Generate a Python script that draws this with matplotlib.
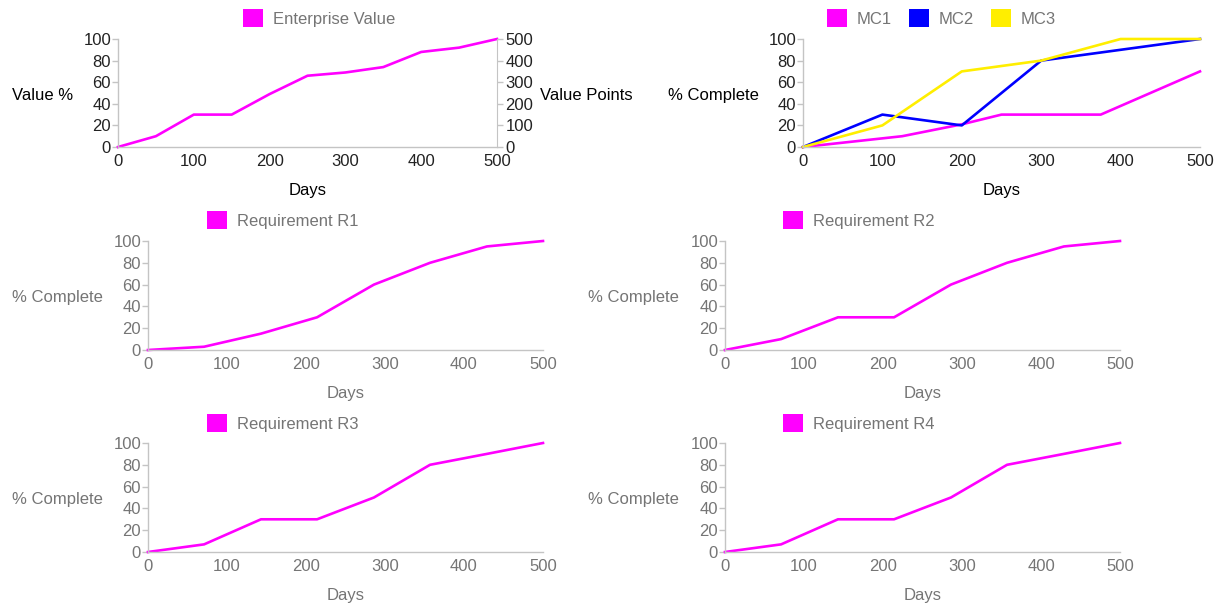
import matplotlib
matplotlib.use("Agg")
import matplotlib.pyplot as plt
from matplotlib.patches import Patch

plt.rcParams["font.family"] = ["Liberation Sans", "DejaVu Sans"]

# ---- data -------------------------------------------------------------
ev_days = [0, 50, 100, 150, 200, 250, 300, 350, 400, 450, 500]
ev_value = [0, 10, 30, 30, 49, 66, 69, 74, 88, 92, 100]

mc1_days = [0, 100, 125, 200, 250, 375, 500]
mc1_pct = [0, 8, 10, 21, 30, 30, 70]
mc2_days = [0, 100, 200, 300, 400, 500]
mc2_pct = [0, 30, 20, 80, 90, 100]
mc3_days = [0, 100, 200, 250, 300, 400, 500]
mc3_pct = [0, 20, 70, 75, 80, 100, 100]

req_days = [0, 71, 143, 214, 286, 357, 429, 500]
r1_pct = [0, 3, 15, 30, 60, 80, 95, 100]
r2_pct = [0, 10, 30, 30, 60, 80, 95, 100]
r3_pct = [0, 7, 30, 30, 50, 80, 90, 100]
r4_pct = [0, 7, 30, 30, 50, 80, 90, 100]

x_ticks = [0, 100, 200, 300, 400, 500]
pct_ticks = [0, 20, 40, 60, 80, 100]
points_ticks = [0, 100, 200, 300, 400, 500]

MAGENTA = "#ff00ff"
BLUE = "#0000ff"
YELLOW = "#ffee00"
SPINE = "#c4c4c4"
DARK = "#222222"
GREY = "#757575"
FS = 12

W, H = 1221, 607
fig = plt.figure(figsize=(W / 100, H / 100), dpi=100)


def px_axes(left, top, right, bottom):
    return fig.add_axes([left / W, 1 - bottom / H, (right - left) / W, (bottom - top) / H])


def style(ax, text_color):
    ax.set_xlim(0, 500)
    ax.set_ylim(0, 100)
    ax.set_xticks(x_ticks)
    ax.set_yticks(pct_ticks)
    for s in ("top", "right"):
        ax.spines[s].set_visible(False)
    for s in ("left", "bottom"):
        ax.spines[s].set_color(SPINE)
        ax.spines[s].set_linewidth(1)
    ax.tick_params(axis="x", length=0, pad=5, labelsize=FS, labelcolor=text_color)
    ax.tick_params(axis="y", length=4, width=1, color=SPINE, pad=1,
                   labelsize=FS, labelcolor=text_color)
    ax.set_facecolor("none")


def labels(ax, ylabel, ylabel_x, text_color):
    ax.set_ylabel(ylabel, rotation=0, ha="left", va="center", fontsize=FS, color=text_color)
    ax.yaxis.set_label_coords(ylabel_x, 0.48)
    ax.set_xlabel("Days", va="center", fontsize=FS, color=text_color)
    ax.xaxis.set_label_coords(0.5, -0.40)


def legend(ax, items, left_px, cy_px):
    handles = [Patch(facecolor=c, edgecolor="none", label=l) for l, c in items]
    ax.legend(handles=handles, loc="center left",
              bbox_to_anchor=(left_px / W, 1 - cy_px / H), bbox_transform=fig.transFigure,
              ncol=len(items), frameon=False, fontsize=FS, labelcolor=GREY,
              handlelength=1.2, handleheight=1.2, handletextpad=0.6,
              columnspacing=1.0, borderpad=0, borderaxespad=0)


LW = 1.9

# ---- Enterprise value -------------------------------------------------
ax1 = px_axes(118, 39, 497, 147)
style(ax1, DARK)
ax1.plot(ev_days, ev_value, color=MAGENTA, lw=LW, solid_joinstyle="round", clip_on=False)
labels(ax1, "Value %", -0.28, "black")
ax1b = ax1.twinx()
ax1b.set_ylim(0, 500)
ax1b.set_yticks(points_ticks)
for s in ("top", "left", "bottom"):
    ax1b.spines[s].set_visible(False)
ax1b.spines["right"].set_color(SPINE)
ax1b.tick_params(axis="y", length=4, width=1, color=SPINE, pad=2,
                 labelsize=FS, labelcolor=DARK)
ax1b.set_ylabel("Value Points", rotation=0, ha="left", va="center", fontsize=FS, color="black")
ax1b.yaxis.set_label_coords(1.113, 0.48)
legend(ax1, [("Enterprise Value", MAGENTA)], 243, 18)

# ---- MC progress ------------------------------------------------------
ax2 = px_axes(803, 39, 1200, 147)
style(ax2, DARK)
ax2.plot(mc1_days, mc1_pct, color=MAGENTA, lw=LW, clip_on=False)
ax2.plot(mc2_days, mc2_pct, color=BLUE, lw=LW, clip_on=False)
ax2.plot(mc3_days, mc3_pct, color=YELLOW, lw=LW, clip_on=False)
labels(ax2, "% Complete", -0.34, "black")
legend(ax2, [("MC1", MAGENTA), ("MC2", BLUE), ("MC3", YELLOW)], 827, 18)

# ---- requirements -----------------------------------------------------
req_panels = [
    ("Requirement R1", r1_pct, (148, 241, 543, 350), -0.344, 207, 220),
    ("Requirement R2", r2_pct, (725, 241, 1120, 350), -0.347, 783, 220),
    ("Requirement R3", r3_pct, (148, 443, 543, 552), -0.344, 207, 423),
    ("Requirement R4", r4_pct, (725, 443, 1120, 552), -0.347, 783, 423),
]
for name, values, box, ylx, lx, ly in req_panels:
    ax = px_axes(*box)
    style(ax, GREY)
    ax.plot(req_days, values, color=MAGENTA, lw=LW, clip_on=False)
    labels(ax, "% Complete", ylx, GREY)
    legend(ax, [(name, MAGENTA)], lx, ly)

fig.savefig("out.png", dpi=100, facecolor="white")
